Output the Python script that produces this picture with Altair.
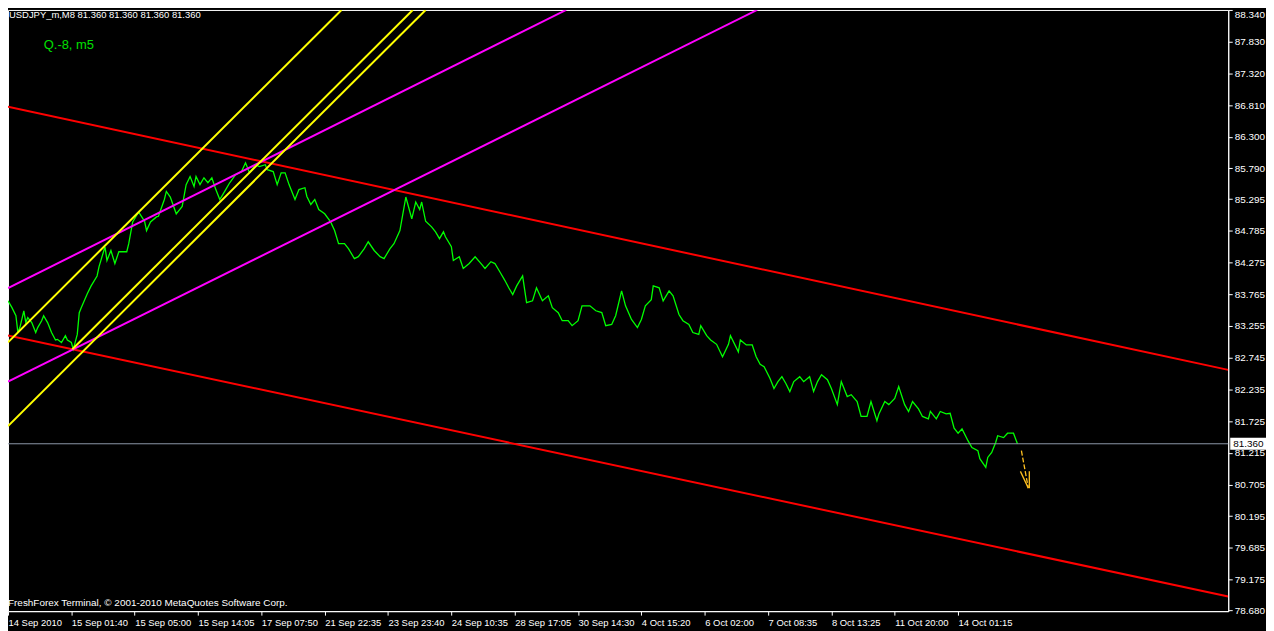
import altair as alt
import pandas as pd

FONT = "Liberation Sans"

# ---- price series (bar index, close) ----
bar_idx = [0, 2, 4, 5, 6, 8, 9, 10, 12, 14, 15, 17, 18, 20, 22, 24, 25, 27, 29, 30,
           32, 33, 35, 36, 37, 40, 42, 45, 46, 49, 50, 52, 54, 56, 60, 61, 63, 66, 69, 70,
           72, 75, 76, 79, 80, 82, 85, 88, 90, 92, 94, 95, 97, 99, 101, 103, 105, 107, 110, 112,
           115, 118, 120, 122, 125, 127, 130, 131, 134, 136, 138, 140, 142, 145, 147, 150, 151, 153, 155, 157,
           160, 163, 165, 167, 170, 172, 175, 177, 180, 182, 185, 188, 190, 193, 195, 198, 201, 204, 206, 208,
           209, 211, 214, 216, 218, 220, 221, 224, 225, 228, 230, 233, 236, 239, 241, 244, 246, 249, 251, 253,
           255, 257, 260, 262, 265, 267, 270, 273, 275, 278, 280, 283, 285, 288, 290, 294, 297, 300, 302, 305,
           307, 310, 312, 315, 318, 320, 322, 325, 326, 329, 331, 334, 336, 339, 341, 344, 346, 349, 350, 353,
           355, 358, 361, 364, 365, 369, 370, 373, 376, 378, 380, 382, 385, 387, 389, 391, 393, 395, 397, 400,
           402, 405, 407, 409, 411, 414, 416, 419, 421, 424, 426, 429, 431, 434, 436, 439, 440, 443, 445, 448,
           450, 453, 455, 457, 460, 462, 465, 466, 469, 471, 474, 476, 478, 480, 482, 485, 487, 490, 491, 494,
           495, 497, 499, 500, 503, 505, 508, 510]
close = [83.66, 83.55, 83.42, 83.15, 83.23, 83.50, 83.31, 83.39, 83.31, 83.15, 83.23, 83.34, 83.42, 83.31, 83.15, 83.03, 83.04, 82.99, 83.10, 83.03,
         82.99, 82.88, 83.12, 83.47, 83.55, 83.77, 83.90, 84.06, 84.21, 84.53, 84.31, 84.47, 84.26, 84.45, 84.45, 84.58, 84.93, 85.09, 84.94, 84.79,
         84.93, 85.01, 85.02, 85.29, 85.42, 85.33, 85.06, 85.18, 85.53, 85.66, 85.50, 85.66, 85.53, 85.64, 85.56, 85.64, 85.45, 85.29, 85.45, 85.56,
         85.69, 85.74, 85.88, 85.72, 85.85, 85.82, 85.85, 85.77, 85.74, 85.53, 85.72, 85.72, 85.53, 85.29, 85.45, 85.48, 85.34, 85.21, 85.29, 85.13,
         85.06, 84.93, 84.79, 84.58, 84.58, 84.50, 84.34, 84.37, 84.50, 84.61, 84.47, 84.37, 84.34, 84.50, 84.58, 84.79, 85.33, 84.98, 85.25, 85.13,
         85.25, 84.94, 84.85, 84.77, 84.66, 84.77, 84.69, 84.53, 84.31, 84.37, 84.18, 84.26, 84.37, 84.26, 84.18, 84.29, 84.26, 84.10, 83.99, 83.87,
         83.76, 83.90, 84.06, 83.63, 83.66, 83.87, 83.66, 83.74, 83.55, 83.47, 83.34, 83.34, 83.26, 83.34, 83.58, 83.58, 83.50, 83.47, 83.26, 83.28,
         83.42, 83.82, 83.58, 83.36, 83.23, 83.36, 83.58, 83.68, 83.90, 83.87, 83.66, 83.82, 83.74, 83.44, 83.34, 83.28, 83.15, 83.12, 83.26, 83.10,
         83.03, 82.96, 82.76, 82.96, 83.10, 82.84, 83.03, 82.95, 82.95, 82.76, 82.64, 82.60, 82.41, 82.25, 82.36, 82.44, 82.33, 82.20, 82.36, 82.44,
         82.36, 82.44, 82.20, 82.36, 82.47, 82.39, 82.25, 81.99, 82.36, 82.12, 82.15, 82.04, 81.80, 81.80, 82.04, 81.73, 81.84, 82.04, 81.99, 82.09,
         82.28, 81.99, 81.88, 82.04, 81.92, 81.80, 81.76, 81.88, 81.76, 81.88, 81.84, 81.85, 81.61, 81.53, 81.60, 81.41, 81.30, 81.25, 81.12, 80.98,
         81.14, 81.22, 81.38, 81.49, 81.46, 81.53, 81.53, 81.36]

bid_price = [81.36]

# ---- trend lines (start bar, start price, end bar, end price) ----
line_names = ["red_upper", "red_lower", "mag_upper", "mag_lower", "yel_1", "yel_2", "yel_3"]
line_group = ["red", "red", "magenta", "magenta", "yellow", "yellow", "yellow"]
line_x0 = [0, 0, 0, 0, 0, 32.5, 0]
line_p0 = [86.783, 83.104, 83.866, 82.359, 82.993, 82.882, 81.645]
line_x1 = [616.5, 616.5, 282, 378.5, 168.5, 204.5, 211]
line_p1 = [82.549, 78.902, 88.34, 88.34, 88.34, 88.34, 88.34]

# ---- arrow (dashed shaft + head) ----
arrow_names = ["shaft", "head_left", "head_right"]
arrow_x0 = [512, 511.5, 516]
arrow_p0 = [81.249, 80.916, 80.916]
arrow_x1 = [515.5, 515.5, 516]
arrow_p1 = [80.646, 80.646, 80.646]

# ---- axes ----
x_labels = ["14 Sep 2010", "15 Sep 01:40", "15 Sep 05:00", "15 Sep 14:05", "17 Sep 07:50",
            "21 Sep 22:35", "23 Sep 23:40", "24 Sep 10:35", "28 Sep 17:05", "30 Sep 14:30",
            "4 Oct 15:20", "6 Oct 02:00", "7 Oct 08:35", "8 Oct 13:25", "11 Oct 20:00", "14 Oct 01:15"]
x_label_bars = [0, 32, 64, 96, 128, 160, 192, 224, 256, 288, 320, 352, 384, 416, 448, 480]
y_ticks = [88.340, 87.830, 87.320, 86.810, 86.300, 85.790, 85.295, 84.785, 84.275, 83.765,
           83.255, 82.745, 82.235, 81.725, 81.215, 80.705, 80.195, 79.685, 79.175, 78.680]

title_text = ["USDJPY_m,M8  81.360 81.360 81.360 81.360"]
note_text = ["Q.-8, m5"]
copyright_text = ["FreshForex Terminal, \u00a9 2001-2010 MetaQuotes Software Corp."]
price_label = ["81.360"]

W, H = 1228, 605

xs = alt.Scale(domain=[0, 616.5], nice=False, zero=False)
ys = alt.Scale(domain=[78.667, 88.34], nice=False, zero=False)

label_arr = "[" + ",".join("'" + s + "'" for s in x_labels) + "]"
x_axis = alt.Axis(values=x_label_bars, labelExpr=label_arr + "[round(datum.value/32)]",
                  orient="bottom", tickSize=4, tickColor="white", domainColor="white",
                  labelColor="white", labelAlign="left", labelBaseline="top", labelPadding=2,
                  labelFont=FONT, labelFontSize=9.5, grid=False, title=None,
                  labelOverlap=False, labelFlush=False)
y_axis = alt.Axis(values=y_ticks, format=".3f", orient="right", tickSize=4, tickColor="white",
                  domainColor="white", labelColor="white", labelAlign="left",
                  labelBaseline={"condition": {"test": "datum.value > 88.3", "value": "top"},
                                 "value": "middle"},
                  labelPadding=2, labelFont=FONT, labelFontSize=10,
                  grid=False, title=None, labelOverlap=False, labelFlush=False)


def X(field):
    return alt.X(field, type="quantitative", scale=xs, axis=x_axis)


def Y(field):
    return alt.Y(field, type="quantitative", scale=ys, axis=y_axis)


series_df = pd.DataFrame({"bar": bar_idx, "price": close})

rows = []
for n, g, a0, b0, a1, b1 in zip(line_names, line_group, line_x0, line_p0, line_x1, line_p1):
    rows.append({"name": n, "group": g, "bar": a0, "price": b0})
    rows.append({"name": n, "group": g, "bar": a1, "price": b1})
lines_df = pd.DataFrame(rows)

arows = []
for n, a0, b0, a1, b1 in zip(arrow_names, arrow_x0, arrow_p0, arrow_x1, arrow_p1):
    arows.append({"name": n, "bar": a0, "price": b0})
    arows.append({"name": n, "bar": a1, "price": b1})
arrow_df = pd.DataFrame(arows)

series = alt.Chart(series_df).mark_line(color="#00ff00", strokeWidth=1.3, clip=True).encode(
    x=X("bar"), y=Y("price"))

bid_df = pd.DataFrame({"price": bid_price})
bid_line = alt.Chart(bid_df).mark_rule(color="#8c98a8", strokeWidth=1).encode(y=Y("price"))

trend = alt.Chart(lines_df).mark_line(strokeWidth=2, clip=True).encode(
    x=X("bar"), y=Y("price"), detail="name:N",
    color=alt.Color("group:N", scale=alt.Scale(domain=["red", "magenta", "yellow"],
                                               range=["#ff0000", "#ff00ff", "#ffff00"]), legend=None))

shaft = alt.Chart(arrow_df[arrow_df["name"] == "shaft"]).mark_line(
    color="#ffc020", strokeWidth=1.3, strokeDash=[5, 2]).encode(x=X("bar"), y=Y("price"))
head = alt.Chart(arrow_df[arrow_df["name"] != "shaft"]).mark_line(
    color="#ffc020", strokeWidth=1.3).encode(x=X("bar"), y=Y("price"), detail="name:N")

box_df = pd.DataFrame({"price": bid_price, "label": price_label})
box = alt.Chart(box_df).transform_calculate(
    top="datum.price + 0.096", bot="datum.price - 0.096").mark_rect(color="white", clip=False).encode(
    x=alt.value(W + 2), x2=alt.value(W + 38), y=Y("top"), y2=alt.Y2("bot"))
box_text = alt.Chart(box_df).mark_text(color="black", align="left", baseline="middle",
                                       font=FONT, fontSize=10).encode(
    x=alt.value(W + 5), y=Y("price"), text="label:N")

title = alt.Chart(pd.DataFrame({"t": title_text})).mark_text(
    color="white", align="left", baseline="top", font=FONT, fontSize=9.5).encode(
    x=alt.value(1), y=alt.value(0), text="t:N")
note = alt.Chart(pd.DataFrame({"t": note_text})).mark_text(
    color="#00e000", align="left", baseline="middle", font=FONT, fontSize=13).encode(
    x=alt.value(36), y=alt.value(35), text="t:N")
copyright_mark = alt.Chart(pd.DataFrame({"t": copyright_text})).mark_text(
    color="white", align="left", baseline="middle", font=FONT, fontSize=10).encode(
    x=alt.value(0), y=alt.value(597), text="t:N")

chart = alt.layer(series, bid_line, trend, shaft, head, box, box_text, title, note, copyright_mark).properties(
    width=W, height=H,
    padding={"left": 0, "top": 0, "right": 38, "bottom": 18},
    autosize=alt.AutoSizeParams(type="none"),
    background="black",
).configure_view(stroke="white", strokeWidth=1)

chart.save("out.html", embed_options={"renderer": "svg", "actions": False})
